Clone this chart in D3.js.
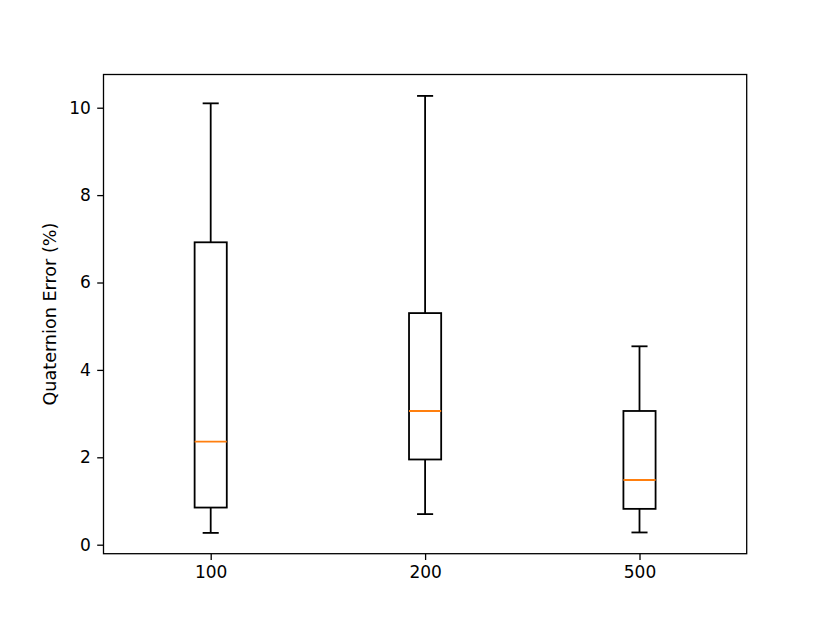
<!DOCTYPE html>
<html lang="en">
<head>
    <meta charset="UTF-8">
    <title>Quaternion Error</title>
    <script src="https://d3js.org/d3.v7.min.js"></script>
    <style>
        body { margin: 0; background: #fff; }
        text { font-family: "DejaVu Sans", sans-serif; }
    </style>
</head>
<body>
    <svg width="830" height="623"></svg>
    <script>
        // values
        var categories = ["100", "200", "500"];
        var whiskerLow = [0.27, 0.70, 0.28];
        var q1 = [0.85, 1.95, 0.82];
        var median = [2.36, 3.06, 1.48];
        var q3 = [6.92, 5.30, 3.06];
        var whiskerHigh = [10.10, 10.27, 4.54];
        var yTicks = [0, 2, 4, 6, 8, 10];

        var boxes = categories.map(function(c, i) {
            return { cat: c, pos: i + 1, lo: whiskerLow[i], q1: q1[i], med: median[i], q3: q3[i], hi: whiskerHigh[i] };
        });

        var svg = d3.select("svg");
        var plotL = 103.5, plotR = 746.7, plotT = 74.5, plotB = 553.7;
        var lw = 1.8;

        var x = d3.scaleLinear().domain([0.5, 3.5]).range([plotL, plotR]);
        var y = d3.scaleLinear().domain([-0.206, 10.76]).range([plotB, plotT]);

        var boxW = x(1.15) - x(1);
        var capW = boxW / 2;

        var g = svg.append("g");

        var b = g.selectAll("g.box")
            .data(boxes)
            .enter().append("g").attr("class", "box");

        // whiskers
        b.append("line")
            .attr("x1", d => x(d.pos)).attr("x2", d => x(d.pos))
            .attr("y1", d => y(d.q3)).attr("y2", d => y(d.hi))
            .attr("stroke", "#000").attr("stroke-width", lw);
        b.append("line")
            .attr("x1", d => x(d.pos)).attr("x2", d => x(d.pos))
            .attr("y1", d => y(d.q1)).attr("y2", d => y(d.lo))
            .attr("stroke", "#000").attr("stroke-width", lw);
        // caps
        b.append("line")
            .attr("x1", d => x(d.pos) - capW / 2).attr("x2", d => x(d.pos) + capW / 2)
            .attr("y1", d => y(d.hi)).attr("y2", d => y(d.hi))
            .attr("stroke", "#000").attr("stroke-width", lw);
        b.append("line")
            .attr("x1", d => x(d.pos) - capW / 2).attr("x2", d => x(d.pos) + capW / 2)
            .attr("y1", d => y(d.lo)).attr("y2", d => y(d.lo))
            .attr("stroke", "#000").attr("stroke-width", lw);
        // box
        b.append("rect")
            .attr("x", d => x(d.pos) - boxW / 2)
            .attr("width", boxW)
            .attr("y", d => y(d.q3))
            .attr("height", d => y(d.q1) - y(d.q3))
            .attr("fill", "none").attr("stroke", "#000").attr("stroke-width", lw);
        // median
        b.append("line")
            .attr("x1", d => x(d.pos) - boxW / 2).attr("x2", d => x(d.pos) + boxW / 2)
            .attr("y1", d => y(d.med)).attr("y2", d => y(d.med))
            .attr("stroke", "#ff7f0e").attr("stroke-width", lw);

        // axes
        var yAxis = d3.axisLeft(y).tickValues(yTicks).tickSize(6.3).tickPadding(6.3).tickFormat(d3.format("d"));
        var xAxis = d3.axisBottom(x).tickValues([1, 2, 3]).tickSize(6.3).tickPadding(6.3)
            .tickFormat(d => categories[d - 1]);

        var ya = svg.append("g").attr("transform", "translate(" + plotL + ",0)").call(yAxis);
        var xa = svg.append("g").attr("transform", "translate(0," + plotB + ")").call(xAxis);
        [ya, xa].forEach(function(a) {
            a.select(".domain").remove();
            a.selectAll(".tick line").attr("stroke", "#000").attr("stroke-width", 1.3);
            a.selectAll(".tick text").attr("fill", "#000").style("font-size", "17px")
                .style("font-family", "DejaVu Sans");
        });

        // frame
        svg.append("rect")
            .attr("x", plotL).attr("y", plotT)
            .attr("width", plotR - plotL).attr("height", plotB - plotT)
            .attr("fill", "none").attr("stroke", "#000").attr("stroke-width", 1.3);

        svg.append("text")
            .attr("transform", "translate(55.5," + ((plotT + plotB) / 2) + ") rotate(-90)")
            .attr("text-anchor", "middle")
            .style("font-size", "17.6px")
            .text("Quaternion Error (%)");
    </script>
</body>
</html>
